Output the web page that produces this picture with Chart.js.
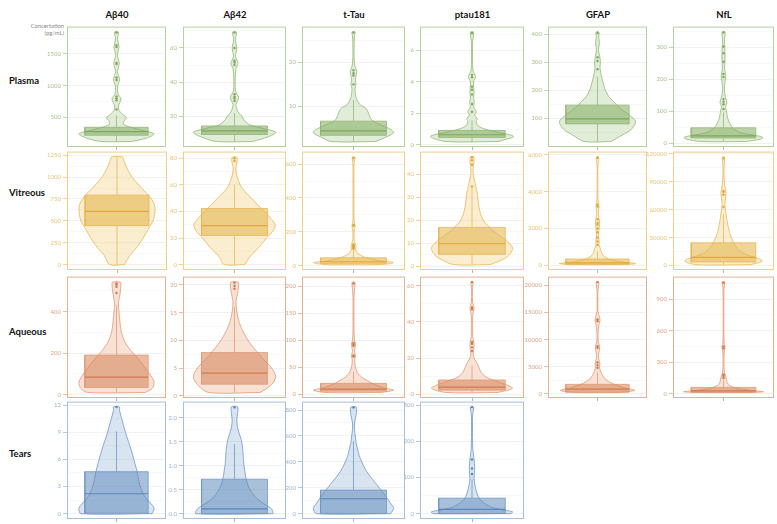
<!DOCTYPE html>
<html>
<head>
<meta charset="utf-8">
<script src="https://cdn.jsdelivr.net/npm/chart.js@4.4.0/dist/chart.umd.min.js"></script>
<style>
body { margin: 0; background: #fff; }
#wrap { position: relative; width: 777px; height: 524px; overflow: hidden; font-family: Lato, 'Liberation Sans', sans-serif; }
.hdr { position: absolute; top: 9px; width: 100px; margin-left: -50px; text-align: center; font-weight: bold; font-size: 9.5px; color: #111; }
.rowlbl { position: absolute; left: 9px; font-weight: bold; font-size: 9.5px; color: #111; transform: translateY(-50%); }
.unit { position: absolute; left: 0; width: 64px; top: 22px; text-align: right; font-size: 5.8px; line-height: 7px; color: #8a8a8a; }
canvas { position: absolute; }
</style>
</head>
<body>
<div id="wrap">
  <div class="unit">Concertation<br>(pg/mL)</div>
</div>
<script>
const markers = ['Aβ40', 'Aβ42', 't-Tau', 'ptau181', 'GFAP', 'NfL'];
const fluids = ['Plasma', 'Vitreous', 'Aqueous', 'Tears'];

// box stats per panel: [lower whisker, q1, median, q3, upper whisker]
// violins: [value, relative half width]
const plasmaTicks = [[500, 1000, 1500], [20, 40, 60], [10, 20], [0, 2, 4, 6], [100, 200, 300, 400], [0, 100, 200, 300]];
const plasmaBoxes = [[118, 217, 275, 343, 530], [5.3, 9.4, 11.5, 14.4, 21.9], [2.1, 3.5, 4.5, 6.7, 11.5], [0.21, 0.47, 0.64, 0.91, 1.57], [17, 80, 98, 147, 248], [5, 16, 23, 48, 96]];
const plasmaOutliers = [
    [625, 770, 800, 830, 1090, 1130, 1340, 1360, 1610, 1640, 1840],
    [29, 30.5, 31.5, 33, 50, 51.5, 52.5, 60, 69],
    [15, 17, 17.5, 18.2, 26.7],
    [2.1, 2.6, 3.2, 3.5, 3.7, 4.3, 4.45, 7.1],
    [275, 305, 318, 405],
    [107, 122, 130, 138, 207, 217, 255, 282, 303, 347]
];
const plasmaViolins = [
    [[118, 0.3], [170, 0.6], [240, 0.76], [290, 0.55], [340, 0.3], [390, 0.14], [440, 0.15], [495, 0.2], [550, 0.12], [610, 0.05], [680, 0.04], [790, 0.09], [870, 0.03], [980, 0.02], [1100, 0.06], [1220, 0.02], [1350, 0.055], [1480, 0.02], [1615, 0.05], [1740, 0.02], [1846, 0.04]],
    [[5.3, 0.35], [8, 0.65], [10.7, 0.8], [13, 0.55], [15, 0.3], [18, 0.18], [20, 0.15], [22, 0.08], [24, 0.05], [27, 0.03], [31, 0.08], [35, 0.02], [42, 0.015], [48, 0.03], [51, 0.07], [55, 0.02], [60, 0.045], [65, 0.015], [69.3, 0.04]],
    [[2.1, 0.43], [3.2, 0.65], [4.1, 0.78], [5, 0.7], [6, 0.5], [7, 0.35], [8.5, 0.29], [9.5, 0.25], [10.5, 0.12], [12, 0.05], [14, 0.03], [15, 0.05], [16, 0.035], [17.5, 0.06], [18.2, 0.06], [19, 0.03], [21, 0.012], [24, 0.012], [26, 0.02], [26.8, 0.03]],
    [[0.21, 0.5], [0.53, 0.8], [0.8, 0.5], [1.0, 0.25], [1.2, 0.12], [1.45, 0.08], [1.65, 0.1], [1.9, 0.05], [2.1, 0.08], [2.4, 0.03], [2.65, 0.045], [3.0, 0.03], [3.3, 0.04], [3.6, 0.035], [4.0, 0.03], [4.35, 0.07], [4.7, 0.02], [5.5, 0.01], [6.5, 0.01], [7.17, 0.03]],
    [[17, 0.27], [40, 0.5], [60, 0.68], [88, 0.77], [110, 0.65], [130, 0.5], [150, 0.38], [180, 0.22], [210, 0.14], [250, 0.08], [280, 0.05], [300, 0.06], [320, 0.045], [345, 0.02], [370, 0.04], [390, 0.025], [408, 0.03]],
    [[5, 0.45], [12, 0.72], [18, 0.78], [25, 0.6], [32, 0.35], [45, 0.2], [60, 0.13], [80, 0.08], [100, 0.06], [115, 0.04], [127, 0.07], [138, 0.05], [155, 0.025], [180, 0.02], [207, 0.045], [218, 0.04], [235, 0.02], [258, 0.03], [282, 0.03], [303, 0.025], [325, 0.02], [348, 0.03]]
];

const vitreousTicks = [[0, 250, 500, 750, 1000, 1250], [0, 20, 40, 60, 80], [0, 200, 400, 600], [0, 10, 20, 30, 40], [0, 2000, 4000, 6000], [0, 30000, 60000, 90000, 120000]];
const vitreousBoxes = [[0, 445, 608, 794, 1230], [0, 22, 29.3, 42.2, 60], [6, 13.5, 23, 46, 95], [0.7, 5.2, 9.8, 16.9, 34], [36, 60, 126, 342, 760], [1000, 3800, 8700, 24400, 55000]];
const vitreousOutliers = [
    [],
    [78, 80],
    [100, 105, 110, 115, 120, 125, 235, 240, 635],
    [34.7, 44.2, 46.2, 47.5],
    [1100, 1300, 1500, 1800, 2000, 2200, 2300, 2500, 3200, 3300, 5850],
    [63000, 76000, 79000, 80000, 115000]
];
const vitreousViolins = [
    [[0, 0.15], [100, 0.25], [200, 0.4], [300, 0.52], [400, 0.62], [500, 0.72], [600, 0.76], [700, 0.74], [800, 0.62], [900, 0.45], [1000, 0.3], [1100, 0.2], [1200, 0.13], [1230, 0.11]],
    [[0, 0.2], [5, 0.28], [10, 0.4], [15, 0.52], [20, 0.62], [25, 0.74], [30, 0.79], [35, 0.7], [40, 0.58], [45, 0.45], [50, 0.33], [55, 0.2], [60, 0.11], [65, 0.06], [70, 0.03], [74, 0.03], [77, 0.05], [80, 0.05], [81, 0.04]],
    [[6, 0.5], [12, 0.72], [19, 0.77], [25, 0.6], [35, 0.4], [50, 0.22], [65, 0.12], [80, 0.06], [100, 0.04], [115, 0.05], [125, 0.04], [150, 0.015], [200, 0.012], [235, 0.03], [260, 0.012], [350, 0.01], [450, 0.01], [550, 0.01], [610, 0.012], [642, 0.025]],
    [[0.7, 0.35], [3, 0.6], [5, 0.72], [7.8, 0.78], [10, 0.72], [13, 0.55], [16, 0.38], [20, 0.22], [24, 0.15], [28, 0.12], [32, 0.1], [35, 0.07], [38, 0.04], [41, 0.02], [44, 0.03], [46, 0.04], [47.6, 0.035]],
    [[36, 0.45], [90, 0.77], [200, 0.45], [350, 0.22], [500, 0.13], [700, 0.08], [900, 0.06], [1100, 0.03], [1300, 0.035], [1600, 0.02], [1900, 0.03], [2200, 0.04], [2500, 0.035], [2800, 0.015], [3200, 0.03], [3600, 0.01], [4500, 0.008], [5400, 0.008], [5890, 0.025]],
    [[1000, 0.55], [5000, 0.77], [9000, 0.6], [13000, 0.4], [18000, 0.28], [25000, 0.2], [32000, 0.14], [40000, 0.1], [48000, 0.07], [56000, 0.05], [63000, 0.03], [70000, 0.035], [78000, 0.05], [82000, 0.04], [88000, 0.02], [95000, 0.012], [105000, 0.01], [116500, 0.02]]
];

const aqueousTicks = [[0, 200, 400], [0, 5, 10, 15, 20], [0, 50, 100, 150, 200], [0, 20, 40, 60], [0, 5000, 10000, 15000, 20000], [0, 300, 600, 900]];
const aqueousBoxes = [[11, 35, 85, 191, 430], [0.6, 2.1, 4.1, 7.8, 16], [3.75, 6.25, 10, 20.6, 42], [1.1, 2.4, 4.1, 8, 16], [250, 300, 880, 1750, 3900], [13, 15, 29, 61, 130]];
const aqueousOutliers = [
    [490, 520, 530, 535],
    [19.3, 19.8, 20.4],
    [70, 72, 90, 93, 95, 205],
    [24, 26, 28, 29, 47, 48, 62],
    [4800, 5300, 5800, 8500, 8800, 13400, 13700, 20600],
    [150, 170, 185, 430, 450, 1055]
];
const aqueousViolins = [
    [[11, 0.58], [30, 0.72], [59, 0.76], [90, 0.7], [130, 0.58], [170, 0.45], [210, 0.3], [250, 0.18], [300, 0.1], [350, 0.07], [400, 0.05], [440, 0.04], [470, 0.06], [500, 0.08], [530, 0.09], [542, 0.08]],
    [[0.6, 0.5], [2, 0.72], [3.45, 0.8], [5, 0.72], [6.5, 0.57], [8, 0.43], [9.5, 0.3], [11, 0.2], [12.5, 0.12], [14, 0.07], [15.5, 0.04], [17, 0.03], [18, 0.05], [19, 0.07], [20, 0.08], [20.5, 0.07]],
    [[3.75, 0.55], [8, 0.78], [12, 0.6], [18, 0.42], [25, 0.28], [32, 0.16], [40, 0.08], [47, 0.05], [55, 0.03], [65, 0.025], [71, 0.04], [80, 0.02], [93, 0.04], [100, 0.02], [120, 0.01], [150, 0.01], [180, 0.01], [205, 0.03], [207.5, 0.025]],
    [[1.1, 0.5], [3.4, 0.78], [5.5, 0.65], [7.5, 0.45], [9.5, 0.28], [12, 0.18], [15, 0.13], [17, 0.1], [19, 0.06], [21, 0.03], [24, 0.025], [27, 0.04], [29, 0.035], [32, 0.015], [38, 0.012], [44, 0.015], [47.5, 0.04], [51, 0.01], [56, 0.01], [60, 0.012], [62, 0.025]],
    [[250, 0.45], [630, 0.75], [1100, 0.55], [1700, 0.35], [2300, 0.22], [3000, 0.13], [3800, 0.08], [4500, 0.05], [5000, 0.04], [5500, 0.05], [6200, 0.03], [7200, 0.02], [8600, 0.045], [9600, 0.015], [11000, 0.01], [12800, 0.03], [13500, 0.05], [14200, 0.04], [15200, 0.01], [17000, 0.008], [19000, 0.008], [20600, 0.025]],
    [[13, 0.5], [20, 0.79], [35, 0.5], [55, 0.25], [80, 0.12], [110, 0.07], [140, 0.06], [170, 0.04], [200, 0.02], [250, 0.012], [350, 0.01], [420, 0.02], [440, 0.035], [470, 0.015], [600, 0.008], [800, 0.008], [1000, 0.01], [1061, 0.025]]
];

const tearsTicks = [[0, 3, 6, 9, 12], [0, 0.5, 1, 1.5, 2], [0, 200, 400, 600, 800], [0, 100, 200, 300]];
const tearsBoxes = [[0, 0.05, 2.2, 4.64, 9.1], [0, 0, 0.1, 0.72, 1.45], [0, 2, 115, 182, 560], [0, 0.5, 12, 43, 95]];
const tearsOutliers = [[11.8], [2.22], [820], [110, 125, 150, 295]];
const tearsViolins = [
    [[0, 0.72], [0.6, 0.76], [1.2, 0.68], [2, 0.56], [3, 0.48], [4, 0.44], [5, 0.4], [6, 0.35], [7, 0.3], [8, 0.24], [9, 0.18], [10, 0.13], [11, 0.08], [11.5, 0.06], [11.8, 0.06]],
    [[0, 0.75], [0.1, 0.72], [0.2, 0.58], [0.3, 0.45], [0.45, 0.33], [0.6, 0.26], [0.75, 0.22], [0.9, 0.2], [1.05, 0.18], [1.2, 0.17], [1.35, 0.16], [1.5, 0.14], [1.65, 0.1], [1.8, 0.06], [1.95, 0.045], [2.1, 0.06], [2.23, 0.06]],
    [[0, 0.72], [40, 0.78], [80, 0.72], [120, 0.65], [160, 0.58], [200, 0.5], [250, 0.4], [300, 0.3], [350, 0.22], [400, 0.16], [450, 0.11], [500, 0.08], [550, 0.05], [600, 0.035], [650, 0.02], [700, 0.02], [760, 0.05], [800, 0.06], [824, 0.05]],
    [[0, 0.75], [5, 0.78], [10, 0.6], [15, 0.45], [20, 0.34], [30, 0.22], [40, 0.15], [55, 0.1], [70, 0.07], [85, 0.05], [100, 0.04], [115, 0.05], [130, 0.05], [150, 0.04], [165, 0.025], [180, 0.015], [210, 0.01], [240, 0.01], [270, 0.01], [290, 0.03], [295.6, 0.03]]
];

const rowTicks = [plasmaTicks, vitreousTicks, aqueousTicks, tearsTicks];
const rowBoxes = [plasmaBoxes, vitreousBoxes, aqueousBoxes, tearsBoxes];
const rowOutliers = [plasmaOutliers, vitreousOutliers, aqueousOutliers, tearsOutliers];
const rowViolins = [plasmaViolins, vitreousViolins, aqueousViolins, tearsViolins];

// layout of the panel grid (page pixels)
const colLeft = [67, 183, 302, 420, 548, 673];
const colRight = [167, 287, 406, 525, 648, 775];
const rowTop = [26, 151, 276, 401];
const rowBottom = [147, 270, 398, 519];
const rowLabelY = [80, 192, 331, 453];
const AXIS_W = 36, PAD_TOP = 5, PAD_RIGHT = 3, X_AXIS_H = 7;
const BOX_HALF = 0.64;

const palette = [
    { line: '#93b774', fill: 'rgba(160,196,128,0.30)', box: 'rgba(130,172,95,0.55)', median: '#7fa660', border: '#b8cea3', text: '#a7c190', point: '#7fa660' },
    { line: '#e5b858', fill: 'rgba(240,200,110,0.32)', box: 'rgba(228,178,70,0.55)', median: '#e0a73a', border: '#f0cf86', text: '#e6c27a', point: '#dfa53a' },
    { line: '#de9b76', fill: 'rgba(232,162,125,0.32)', box: 'rgba(214,132,88,0.55)', median: '#cf7a4c', border: '#e6b193', text: '#dba487', point: '#cf7a4c' },
    { line: '#6f97c6', fill: 'rgba(130,165,210,0.30)', box: 'rgba(98,140,190,0.55)', median: '#5a86ba', border: '#a8bfda', text: '#9ab3d0', point: '#5a86ba' }
];

Chart.defaults.font.family = 'Lato';

// Draw frame around each panel
const panelBorder = {
    id: 'panelBorder',
    afterDraw(chart, args, opts) {
        const { ctx, chartArea: a } = chart;
        ctx.save();
        ctx.strokeStyle = opts.color;
        ctx.lineWidth = 1;
        ctx.strokeRect(a.left + 0.5, a.top + 0.5, a.width - 1, a.height - 1);
        ctx.restore();
    }
};

function violinPoints(profile) {
    const right = profile.map(([v, w]) => ({ x: w, y: v }));
    const left = profile.slice().reverse().map(([v, w]) => ({ x: -w, y: v }));
    return right.concat(left, [right[0]]);
}

function buildPanel(r, c) {
    const ticks = rowTicks[r][c];
    const [wLo, q1, med, q3, wHi] = rowBoxes[r][c];
    const outliers = rowOutliers[r][c];
    const violin = rowViolins[r][c];
    const pal = palette[r];

    const lo = violin[0][0], hi = violin[violin.length - 1][0];
    const pad = (hi - lo) * 0.05;
    const yMin = lo - pad, yMax = hi + pad;

    // major + minor grid values
    const step = ticks[1] - ticks[0];
    const majors = new Set(ticks);
    const allTicks = [];
    ticks.forEach((t, i) => {
        if (i === 0 && t - step / 2 >= yMin) allTicks.push(t - step / 2);
        allTicks.push(t);
        if (t + step / 2 <= yMax) allTicks.push(t + step / 2);
    });
    const decimals = ticks.some(t => t % 1 !== 0) ? 1 : 0;

    const cv = document.createElement('canvas');
    const W = colRight[c] - colLeft[c] + AXIS_W + PAD_RIGHT;
    const H = rowBottom[r] - rowTop[r] + PAD_TOP + X_AXIS_H;
    cv.width = W; cv.height = H;
    cv.style.left = (colLeft[c] - AXIS_W) + 'px';
    cv.style.top = (rowTop[r] - PAD_TOP) + 'px';
    cv.style.width = W + 'px'; cv.style.height = H + 'px';
    document.getElementById('wrap').appendChild(cv);

    const common = { pointRadius: 0, borderWidth: 0.8, tension: 0 };

    new Chart(cv.getContext('2d'), {
        type: 'line',
        data: {
            datasets: [
                Object.assign({}, common, {
                    data: violinPoints(violin), borderColor: pal.line, backgroundColor: pal.fill,
                    fill: 'shape', tension: 0.3, order: 5
                }),
                Object.assign({}, common, {
                    data: [{ x: -BOX_HALF, y: q1 }, { x: BOX_HALF, y: q1 }, { x: BOX_HALF, y: q3 }, { x: -BOX_HALF, y: q3 }, { x: -BOX_HALF, y: q1 }],
                    borderColor: pal.line, backgroundColor: pal.box, fill: 'shape', order: 4
                }),
                Object.assign({}, common, {
                    data: [{ x: 0, y: wLo }, { x: 0, y: q1 }], borderColor: pal.line, fill: false, order: 3
                }),
                Object.assign({}, common, {
                    data: [{ x: 0, y: q3 }, { x: 0, y: wHi }], borderColor: pal.line, fill: false, order: 3
                }),
                Object.assign({}, common, {
                    data: [{ x: -BOX_HALF, y: med }, { x: BOX_HALF, y: med }], borderColor: pal.median, borderWidth: 1.2, fill: false, order: 2
                }),
                {
                    data: outliers.map(v => ({ x: 0, y: v })), showLine: false, pointRadius: 1.2,
                    pointBorderWidth: 0, pointBackgroundColor: pal.point, order: 1
                }
            ]
        },
        options: {
            responsive: false,
            animation: false,
            events: [],
            layout: { padding: { top: PAD_TOP, right: PAD_RIGHT, left: 0, bottom: 0 } },
            plugins: {
                legend: { display: false },
                tooltip: { enabled: false },
                panelBorder: { color: pal.border }
            },
            scales: {
                x: {
                    type: 'linear', min: -1, max: 1,
                    afterBuildTicks: s => { s.ticks = [{ value: 0 }]; },
                    afterFit: s => { s.height = X_AXIS_H; },
                    grid: { drawOnChartArea: false, tickLength: 3, tickColor: '#b5b5b5' },
                    border: { display: false },
                    ticks: { callback: () => '', padding: 0 }
                },
                y: {
                    type: 'linear', min: yMin, max: yMax,
                    afterBuildTicks: s => { s.ticks = allTicks.map(v => ({ value: v })); },
                    afterFit: s => { s.width = AXIS_W; },
                    grid: {
                        color: ctx => majors.has(ctx.tick.value) ? '#ebebeb' : '#f5f5f5',
                        lineWidth: 0.7,
                        tickLength: 4,
                        tickColor: ctx => majors.has(ctx.tick.value) ? pal.text : 'rgba(0,0,0,0)'
                    },
                    border: { display: false },
                    ticks: {
                        autoSkip: false, padding: 2, color: pal.text,
                        font: { size: 6 },
                        callback: v => majors.has(v) ? v.toFixed(decimals) : ''
                    }
                }
            }
        },
        plugins: [panelBorder]
    });
}

const wrap = document.getElementById('wrap');
markers.forEach((m, c) => {
    const d = document.createElement('div');
    d.className = 'hdr';
    d.style.left = ((colLeft[c] + colRight[c]) / 2) + 'px';
    d.textContent = m;
    wrap.appendChild(d);
});
fluids.forEach((f, r) => {
    const d = document.createElement('div');
    d.className = 'rowlbl';
    d.style.top = rowLabelY[r] + 'px';
    d.textContent = f;
    wrap.appendChild(d);
    rowViolins[r].forEach((v, c) => buildPanel(r, c));
});
</script>
</body>
</html>
